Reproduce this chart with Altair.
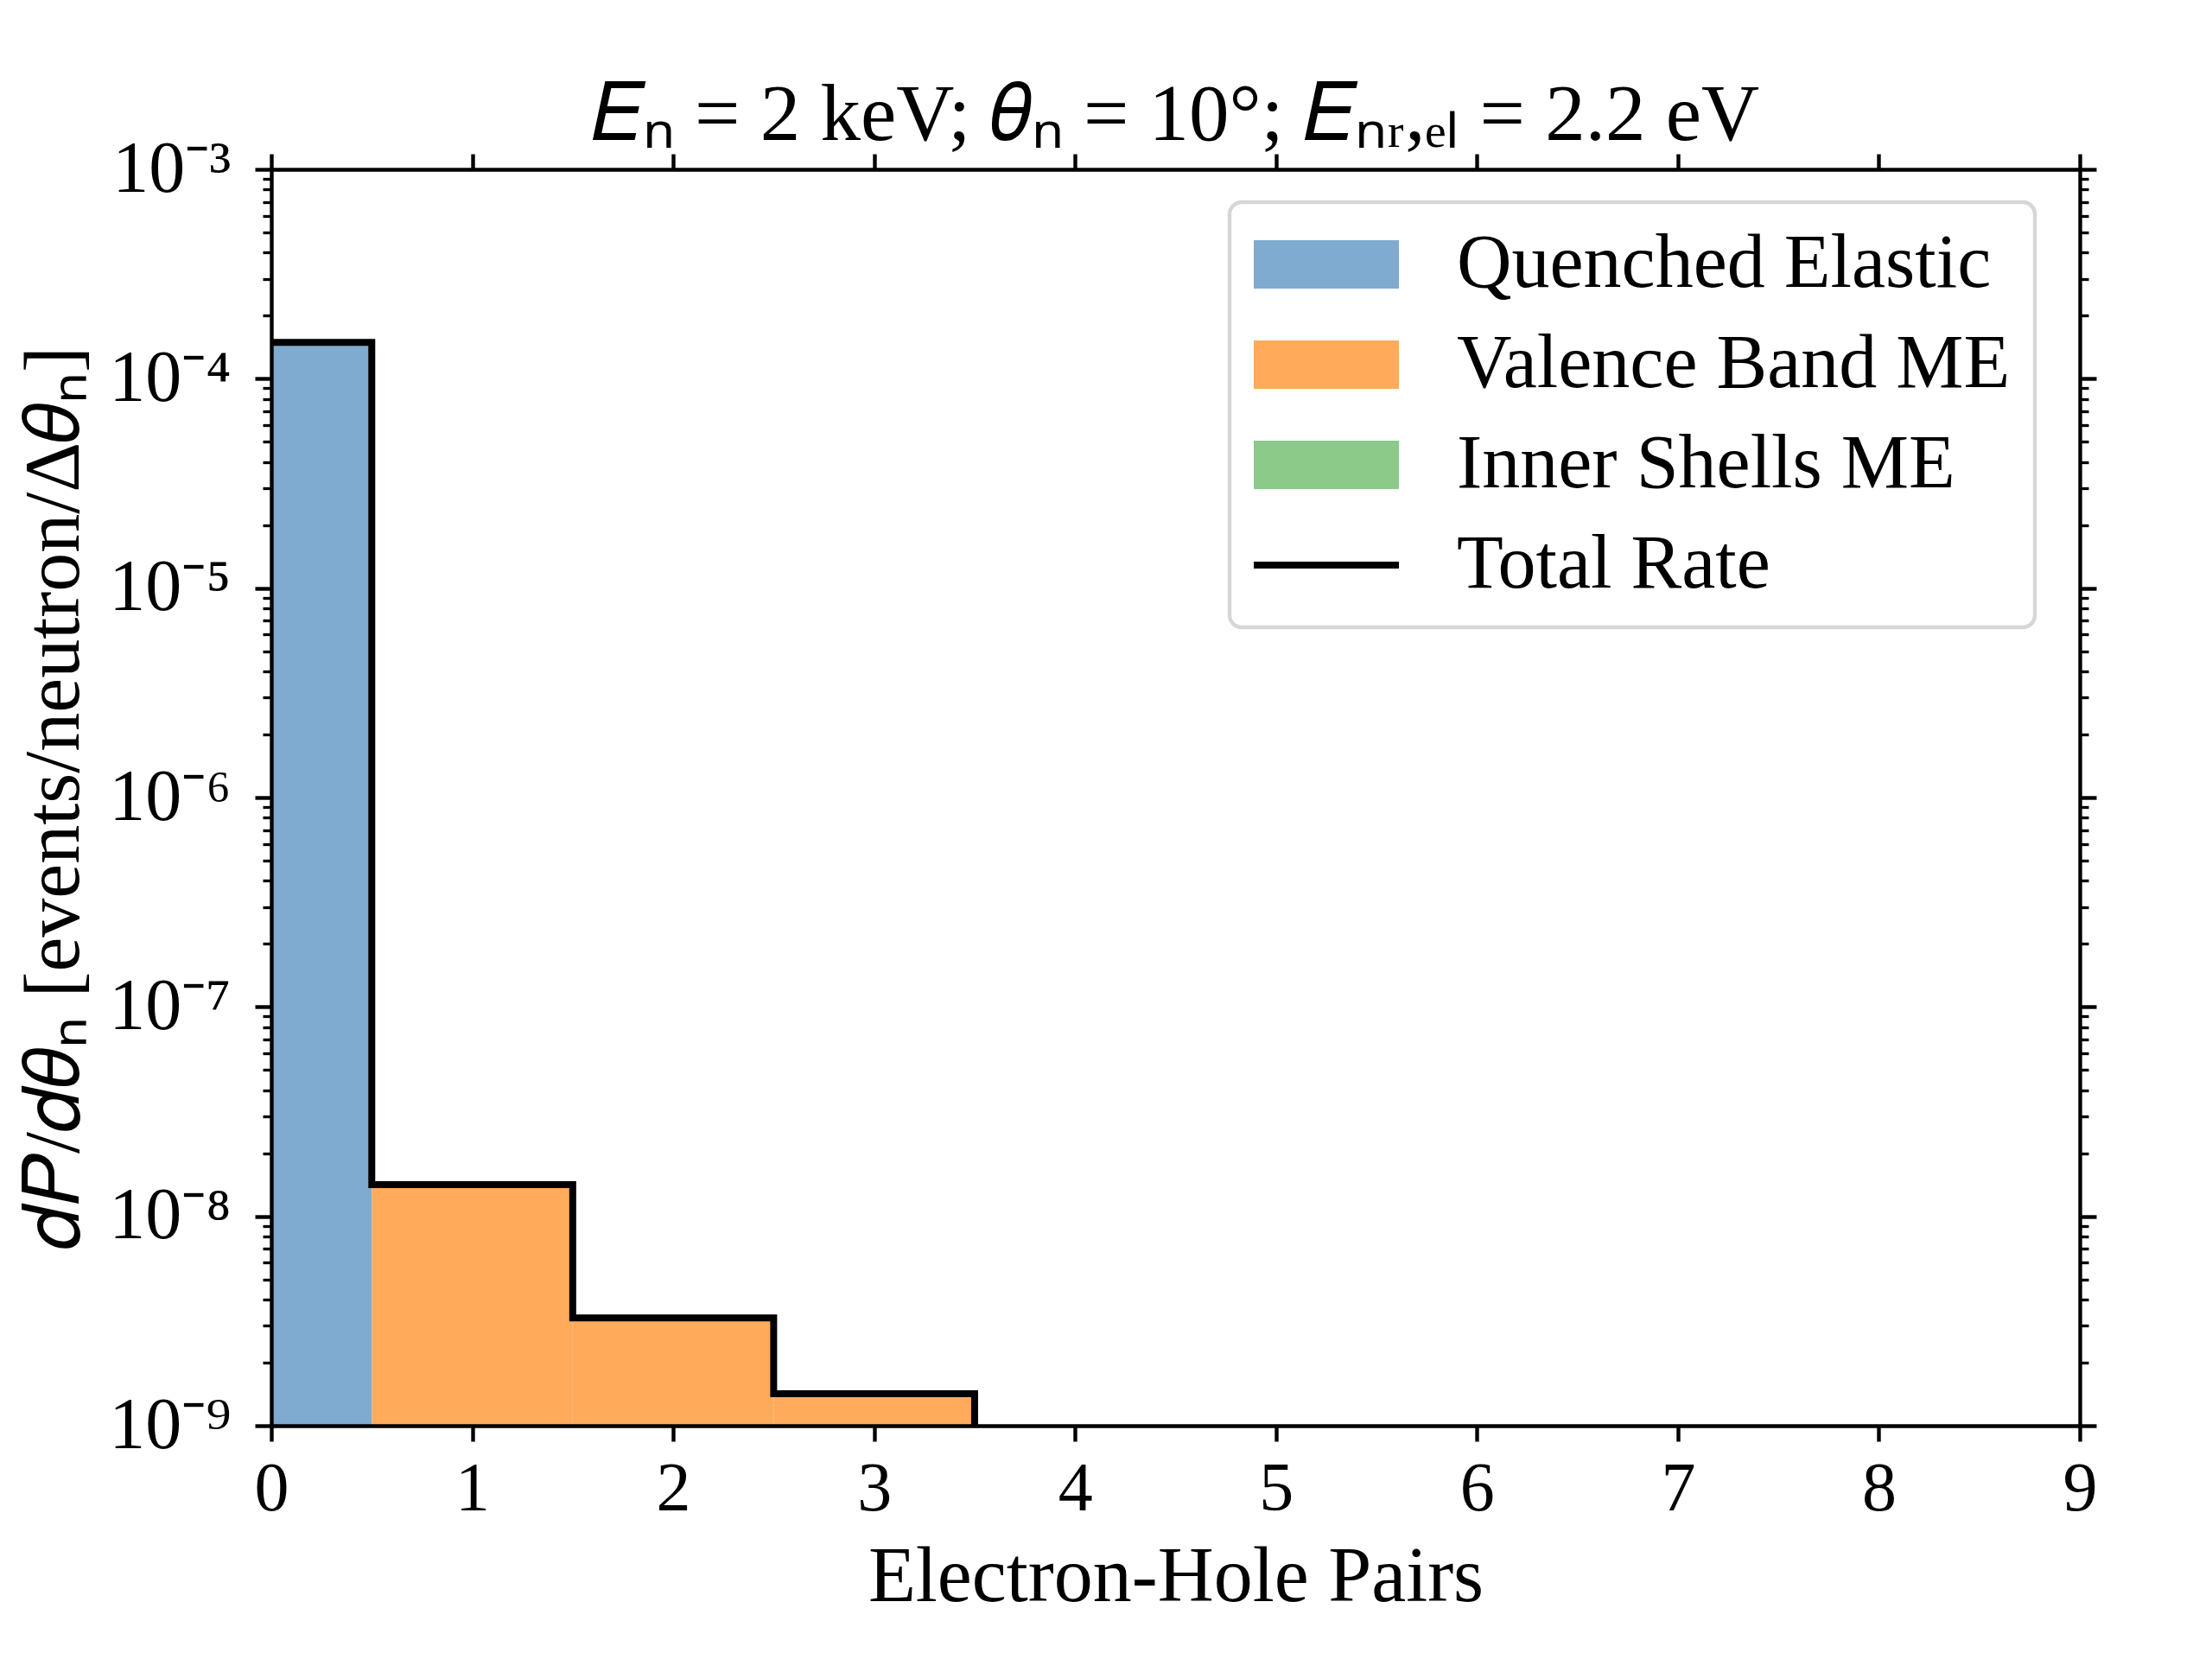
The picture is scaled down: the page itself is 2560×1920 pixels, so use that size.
import math
import altair as alt
import pandas as pd

# ---------------- data ----------------
pairs = [0, 1, 2, 3, 4, 5, 6, 7, 8]
quenched_elastic = [1.49e-4, 0.0, 0.0, 0.0, 0.0, 0.0, 0.0, 0.0, 0.0]
valence_band_me = [0.0, 1.416e-8, 3.27e-9, 1.42e-9, 0.0, 0.0, 0.0, 0.0, 0.0]
inner_shells_me = [0.0, 0.0, 0.0, 0.0, 0.0, 0.0, 0.0, 0.0, 0.0]

series_names = ["Quenched Elastic", "Valence Band ME", "Inner Shells ME", "Total Rate"]
series_fill = ["#7eabcf", "#ffab5b", "#8bca88", "transparent"]
series_stroke = ["transparent", "transparent", "transparent", "#000000"]
patch_shape = "M-3,-1H3V1H-3Z"
line_shape = "M-3,0H3"
series_shapes = [patch_shape, patch_shape, patch_shape, line_shape]

x_tick_values = [0, 1, 2, 3, 4, 5, 6, 7, 8, 9]
y_major_ticks = [1e-9, 1e-8, 1e-7, 1e-6, 1e-5, 1e-4, 1e-3]
y_major_labels = ["10⁻⁹", "10⁻⁸", "10⁻⁷", "10⁻⁶", "10⁻⁵", "10⁻⁴", "10⁻³"]
minor_mantissas = [2, 3, 4, 5, 6, 7, 8, 9]
minor_decades = [1e-9, 1e-8, 1e-7, 1e-6, 1e-5, 1e-4]
y_minor_ticks = [m * d for d in minor_decades for m in minor_mantissas]

x_domain = [0, 9]
y_domain = [1e-9, 1e-3]
y_below = 1e-12          # stands for log(0): below the axis, clipped
bin_width = 1.0

title_text = "𝐸ₙ = 2 keV; 𝜃ₙ = 10°; 𝐸ₙᵣ,ₑₗ = 2.2 eV"
x_title = "Electron-Hole Pairs"
y_title = "𝑑𝑃/𝑑𝜃ₙ [events/neutron/Δ𝜃ₙ]"

FONT = "Liberation Serif"

# ---------------- tables ----------------
bar_rows = []
for i, p in enumerate(pairs):
    base = 0.0
    for name, vals in zip(series_names[:3], [quenched_elastic, valence_band_me, inner_shells_me]):
        v = vals[i]
        if v > 0:
            bar_rows.append({"pair": p, "series": name,
                             "lo": base if base > 0 else y_domain[0], "hi": base + v})
        base += v
bars_df = pd.DataFrame(bar_rows)

totals = [a + b + c for a, b, c in zip(quenched_elastic, valence_band_me, inner_shells_me)]
line_rows = []
for i, p in enumerate(pairs):
    t = totals[i] if totals[i] > 0 else y_below
    line_rows.append({"pair": p, "side": -0.5, "total": t, "order": 2 * i})
    line_rows.append({"pair": p, "side": 0.5, "total": t, "order": 2 * i + 1})
line_df = pd.DataFrame(line_rows)

minor_df = pd.DataFrame({"v": y_minor_ticks})
legend_df = pd.DataFrame({"series": series_names})

label_expr = "''"
for v, lab in zip(y_major_ticks, y_major_labels):
    e = round(math.log10(v))
    label_expr = f"abs(log(datum.value)/LN10 - ({e})) < 0.01 ? '{lab}' : " + label_expr

xs = alt.Scale(domain=x_domain, nice=False, zero=False)
ys = alt.Scale(type="log", domain=y_domain, nice=False)

fill_scale = alt.Scale(domain=series_names, range=series_fill)
stroke_scale = alt.Scale(domain=series_names, range=series_stroke)
shape_scale = alt.Scale(domain=series_names, range=series_shapes)

AX = dict(domainColor="black", tickColor="black", labelColor="black", titleColor="black",
          domainWidth=4.4, tickWidth=4.4, grid=False, zindex=2)

x_bottom = alt.Axis(orient="bottom", values=x_tick_values, format="d", tickSize=18,
                    labelPadding=16, labelFontSize=80, labelFlush=False, labelOverlap=False,
                    title=x_title, titleFontSize=90, titleFontWeight="normal",
                    titleBaseline="alphabetic", titleY=202, **AX)
x_top = alt.Axis(orient="top", values=x_tick_values, tickSize=18, labels=False, title=None, **AX)

y_left = alt.Axis(orient="left", values=y_major_ticks, labelExpr=label_expr, tickSize=19,
                  labelPadding=28, labelFontSize=84, labelOverlap=False,
                  title=y_title, titleFontSize=90, titleFontWeight="normal",
                  titleBaseline="alphabetic", titleX=-224, **AX)
y_right = alt.Axis(orient="right", values=y_major_ticks, tickSize=19, labels=False, title=None, **AX)
AXm = dict(AX)
AXm["tickWidth"] = 3.3
y_left_minor = alt.Axis(orient="left", values=y_minor_ticks, tickSize=10, labels=False,
                        domain=False, title=None, **AXm)
y_right_minor = alt.Axis(orient="right", values=y_minor_ticks, tickSize=10, labels=False,
                         domain=False, title=None, **AXm)

leg = alt.Legend(orient="none", legendX=1109, legendY=38, title=None,
                 symbolSize=3136, symbolStrokeWidth=8, symbolOffset=40, labelOffset=107,
                 labelFontSize=88, labelFont=FONT, labelColor="black", labelLimit=2000,
                 padding=28, rowPadding=28, cornerRadius=14, strokeColor="#d6d6d6",
                 fillColor="rgba(255,255,255,0.8)", symbolOpacity=1)

# legend carrier (first, so its legend settings win the merge); its points sit outside the clip
legend_layer = alt.Chart(legend_df).mark_point(
    filled=True, opacity=1, strokeWidth=8, clip=True, size=3136
).encode(
    x=alt.value(-500), y=alt.value(-500),
    fill=alt.Fill("series:N", scale=fill_scale, legend=leg),
    stroke=alt.Stroke("series:N", scale=stroke_scale, legend=leg),
    shape=alt.Shape("series:N", scale=shape_scale, legend=leg),
)

bars = alt.Chart(bars_df).mark_rect(clip=True, strokeWidth=0).transform_calculate(
    left=f"datum.pair - {bin_width / 2}", right=f"datum.pair + {bin_width / 2}"
).encode(
    x=alt.X("left:Q", scale=xs, axis=x_bottom),
    x2="right:Q",
    y=alt.Y("lo:Q", scale=ys, axis=y_left),
    y2="hi:Q",
    fill=alt.Fill("series:N", scale=fill_scale, legend=None),
)

line = alt.Chart(line_df).mark_line(color="black", strokeWidth=8, clip=True).transform_calculate(
    edge=f"datum.pair + datum.side * {bin_width}"
).encode(
    x=alt.X("edge:Q", scale=xs, axis=x_top),
    y=alt.Y("total:Q", scale=ys, axis=y_right),
    order="order:Q",
)

left_minor = alt.Chart(minor_df).mark_point(opacity=0).encode(
    y=alt.Y("v:Q", scale=ys, axis=y_left_minor))
right_minor = alt.Chart(minor_df).mark_point(opacity=0).encode(
    y=alt.Y("v:Q", scale=ys, axis=y_right_minor))

chart = alt.layer(legend_layer, bars, line, left_minor, right_minor).resolve_axis(
    x="independent", y="independent"
).properties(
    width=2093, height=1454,
    padding={"left": 306, "top": 188, "right": 145, "bottom": 262},
    autosize=alt.AutoSizeParams(type="none"),
    title=alt.TitleParams(text=title_text, font=FONT, fontSize=93, fontWeight="normal",
                          color="black", anchor="middle", baseline="alphabetic",
                          offset=14, dy=115, frame="group"),
    background="white",
).configure(font=FONT).configure_view(stroke=None).configure_legend(strokeWidth=4.4)

chart.save("out.html", embed_options={"renderer": "svg", "actions": False})
